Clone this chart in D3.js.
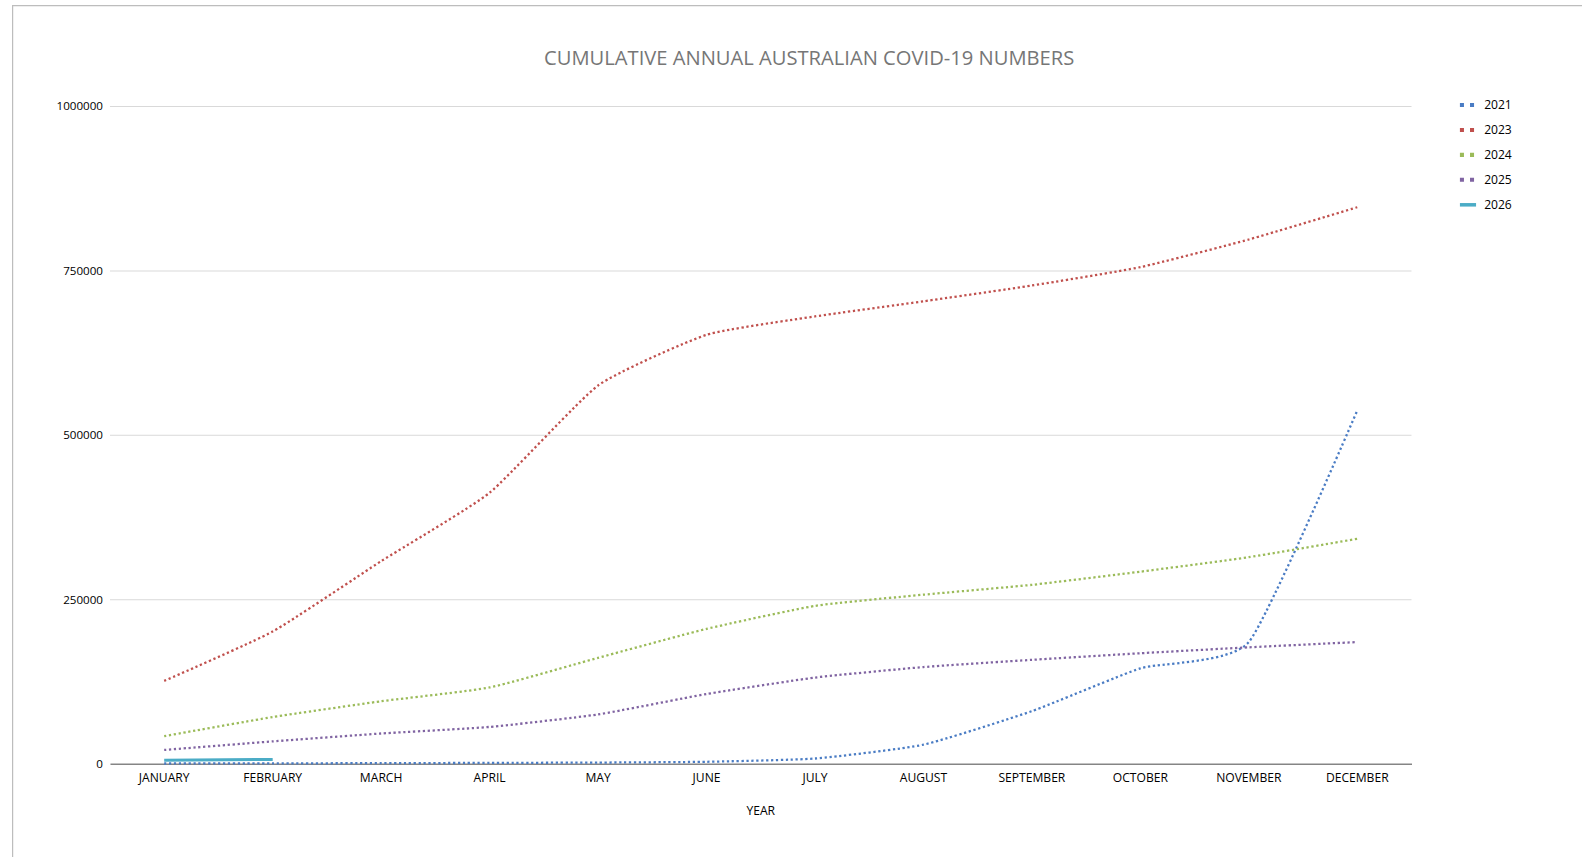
<!DOCTYPE html>
<html>
<head>
<meta charset="utf-8">
<script src="https://cdn.jsdelivr.net/npm/d3@7"></script>
<style>
  html, body { margin: 0; padding: 0; background: #fff; overflow: hidden; }
  svg { display: block; font-family: "Open Sans", sans-serif; overflow: hidden; }
</style>
</head>
<body>
<div id="chart"></div>
<script>
// Chart data
const months = ['JANUARY', 'FEBRUARY', 'MARCH', 'APRIL', 'MAY', 'JUNE', 'JULY',
    'AUGUST', 'SEPTEMBER', 'OCTOBER', 'NOVEMBER', 'DECEMBER'];
const yTicks = [0, 250000, 500000, 750000, 1000000];

const years = ['2021', '2023', '2024', '2025', '2026'];
const cases2021 = [400, 600, 900, 1300, 1800, 3000, 8000, 29000, 80000, 145000, 185000, 537000];
const cases2023 = [126000, 201000, 308000, 412000, 575000, 652000, 680000, 703000, 727000, 755000, 797000, 846000];
const cases2024 = [42000, 71000, 95000, 116000, 161000, 205000, 240000, 257000, 272000, 292000, 314000, 342000];
const cases2025 = [21000, 34000, 46000, 56000, 75000, 106000, 131000, 147000, 158000, 168000, 177000, 185000];
const cases2026 = [5500, 6500];

const seriesValues = [cases2021, cases2023, cases2024, cases2025, cases2026];
const colors = ['#4a7cc4', '#c0504d', '#9bbb59', '#8064a2', '#4bacc6'];

const width = 1582;
const height = 857;
// layout was measured on a 1568px wide copy of the picture
const k = 1582 / 1568;
const w = width / k;
const h = height / k;
const margin = { left: 109, right: w - 1399, top: 105, bottom: h - 757 };

const svg = d3.select('#chart')
    .append('svg')
    .attr('width', width)
    .attr('height', height);

const root = svg.append('g').attr('transform', `scale(${k})`);

// outer chart-area border (runs off the right and bottom edge)
root.append('path')
    .attr('d', `M${w + 10},5.5H12.5V${h + 10}`)
    .attr('fill', 'none')
    .attr('stroke', '#bdbdbd')
    .attr('stroke-width', 1.2);

const x = d3.scaleBand()
    .domain(months)
    .range([margin.left, w - margin.right]);

const y = d3.scaleLinear()
    .domain([0, 1000000])
    .range([h - margin.bottom, margin.top]);

const xc = (m) => x(m) + x.bandwidth() / 2;

// gridlines
root.append('g')
    .attr('transform', `translate(${margin.left},0)`)
    .call(d3.axisLeft(y).tickValues(yTicks.slice(1)).tickSize(-(w - margin.left - margin.right)).tickFormat(''))
    .call(g => g.select('.domain').remove())
    .call(g => g.selectAll('line').attr('stroke', '#d9d9d9').attr('stroke-width', 1));

// y labels
root.append('g')
    .attr('transform', `translate(${margin.left},0)`)
    .call(d3.axisLeft(y).tickValues(yTicks).tickSize(0).tickPadding(7).tickFormat(d3.format('d')))
    .call(g => g.select('.domain').remove())
    .call(g => g.selectAll('text')
        .attr('font-family', '"Open Sans", sans-serif')
        .attr('font-size', 11.5)
        .attr('fill', '#000'));

// x axis
root.append('g')
    .attr('transform', `translate(0,${y(0)})`)
    .call(d3.axisBottom(x).tickSize(0).tickPadding(10).tickSizeOuter(0))
    .call(g => g.select('.domain').attr('stroke', '#858585').attr('stroke-width', 1.5))
    .call(g => g.selectAll('text')
        .attr('font-family', '"Open Sans", sans-serif')
        .attr('font-size', 12)
        .attr('fill', '#000'));

// title
root.append('text')
    .attr('x', 802)
    .attr('y', 64)
    .attr('text-anchor', 'middle')
    .attr('font-size', 20)
    .attr('fill', '#767676')
    .text('CUMULATIVE ANNUAL AUSTRALIAN COVID-19 NUMBERS');

// x axis title
root.append('text')
    .attr('x', 754)
    .attr('y', 808)
    .attr('text-anchor', 'middle')
    .attr('font-size', 12)
    .attr('fill', '#000')
    .text('YEAR');

// lines (excel-like smoothing: sharper corners, no overshoot)
const line = d3.line()
    .x((d, i) => xc(months[i]))
    .y(d => y(d))
    .curve(d3.curveCardinal.tension(0.5));

const gLines = root.append('g').attr('fill', 'none');

seriesValues.forEach((vals, i) => {
    const solid = years[i] === '2026';
    gLines.append('path')
        .datum(vals)
        .attr('d', line)
        .attr('stroke', colors[i])
        .attr('stroke-width', solid ? 3 : 2.25)
        .attr('stroke-dasharray', solid ? null : '2.25,2.6');
});

// legend
const legend = root.append('g');
years.forEach((yr, i) => {
    const ly = 104 + i * 24.75;
    const solid = yr === '2026';
    legend.append('line')
        .attr('x1', 1447)
        .attr('x2', solid ? 1463 : 1462)
        .attr('y1', ly)
        .attr('y2', ly)
        .attr('stroke', colors[i])
        .attr('stroke-width', solid ? 3.5 : 4)
        .attr('stroke-dasharray', solid ? null : '4,6');
    legend.append('text')
        .attr('x', 1471)
        .attr('y', ly)
        .attr('dy', '0.35em')
        .attr('font-size', 12)
        .attr('fill', '#000')
        .text(yr);
});
</script>
</body>
</html>
